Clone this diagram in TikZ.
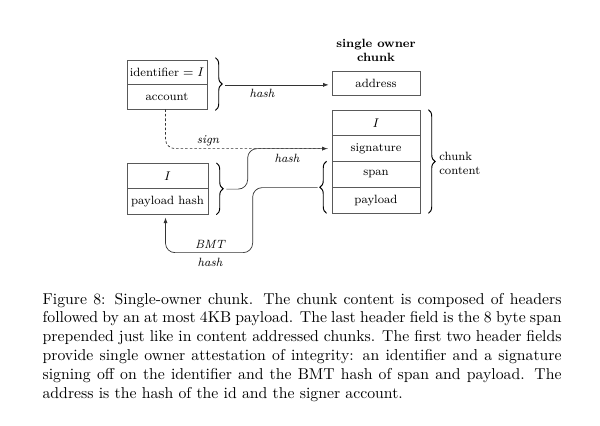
\documentclass[tikz,border=0pt]{standalone}
\usetikzlibrary{decorations.pathreplacing,arrows.meta,calc}
\newdimen\pxu \pxu=0.6349pt
\newcommand\dfont{\fontsize{7.6}{9}\selectfont}
\newdimen\capw \capw=329.5pt
\begin{document}
\begin{tikzpicture}[x=0.6349pt,y=-0.6349pt,
  cell/.style={draw=black!65, line width=0.45pt, minimum width=80\pxu, minimum height=25\pxu, inner sep=0pt, font=\dfont},
  rcell/.style={cell, minimum width=88\pxu, minimum height=25.75\pxu},
  lbl/.style={font=\dfont\itshape, inner sep=0pt},
  brc/.style={decorate, decoration={brace, amplitude=4.3pt}, line width=0.6pt},
  arr/.style={-{Latex[length=3.5pt,width=2.6pt]}, line width=0.45pt, draw=black!80},
  dsh/.style={line width=0.45pt, draw=black!80, dash pattern=on 1.6pt off 1.3pt}]
\useasboundingbox (0,0) rectangle (600,425);
% left top
\node[cell, minimum height=24.5\pxu] (id) at (167,72.25) {identifier $= I$};
\node[cell, minimum height=24.5\pxu] (acct) at (167,96.75) {account};
% left bottom
\node[cell, minimum width=81\pxu, minimum height=25.5\pxu] (ib) at (167.5,176) {$I$};
\node[cell, minimum width=81\pxu, minimum height=25.5\pxu] (ph) at (167.5,201.5) {payload hash};
% right
\node[font=\fontsize{7.6}{8.5}\selectfont\bfseries, align=center, inner sep=0pt] (title) at (376,50.5) {single owner\\chunk};
\node[rcell, minimum height=24\pxu] (addr) at (376,83) {address};
\node[rcell] (i2) at (376,122.9) {$I$};
\node[rcell] (sig) at (376,148.6) {signature};
\node[rcell] (span) at (376,174.4) {span};
\node[rcell] (pay) at (376,200.1) {payload};
\node[font=\dfont, align=left, anchor=west, inner sep=0pt] (cc) at (439,163.5) {chunk\\content};
% braces
\draw[brc] ([xshift=8\pxu,yshift=2\pxu]id.north east) -- ([xshift=8\pxu,yshift=-1\pxu]acct.south east);
\draw[brc] ([xshift=8\pxu]ib.north east) -- ([xshift=8\pxu]ph.south east);
\draw[brc] ([xshift=8\pxu]i2.north east) -- ([xshift=8\pxu]pay.south east);
\draw[brc] ([xshift=-5\pxu]pay.south west) -- ([xshift=-5\pxu]span.north west);
% tips and joints
\coordinate (t1) at ($(id.south east)+(18,0)$);
\coordinate (t2) at ($(ib.south east)+(18,0)$);
\coordinate (t3) at ($(span.south west)+(-14,0)$);
\path (sig.west) ++(-84,0) coordinate (j1);
\coordinate (j2) at ($(t3)+(-65,65)$);
% connectors
\draw[arr, shorten >=3\pxu] (t1) -- (t1 -| addr.west);
\node[lbl] (h1) at (262,93) {hash};
\draw[dsh, rounded corners=6pt] ([xshift=-1.5\pxu]acct.south) |- ([xshift=-4\pxu]sig.west);
\node[lbl] (sg) at (208,141) {sign};
\draw[arr, rounded corners=6pt] (t2) -| (j1) -- ([xshift=-4\pxu]sig.west);
\node[lbl] (h2) at (287,158) {hash};
\draw[arr, rounded corners=6pt] (t3) -| (j2) -| ([xshift=-2\pxu,yshift=-3\pxu]ph.south);
\node[lbl] (bmt) at (210,244) {BMT};
\node[lbl] (h3) at (210,262) {hash};
% caption
\node[anchor=base west, inner sep=0pt] (cap) at (42.3,304) {\parbox[t]{\capw}{\baselineskip=12pt
\hbox to \capw{Figure 8: Single-owner chunk. The chunk content is composed of headers}
\hbox to \capw{followed by an at most 4KB payload. The last header field is the 8 byte span}
\hbox to \capw{prepended just like in content addressed chunks. The first two header fields}
\hbox to \capw{provide single owner attestation of integrity: an identifier and a signature}
\hbox to \capw{signing off on the identifier and the BMT hash of span and payload. The}
\hbox{address is the hash of the id and the signer account.}}};
\end{tikzpicture}
\end{document}
